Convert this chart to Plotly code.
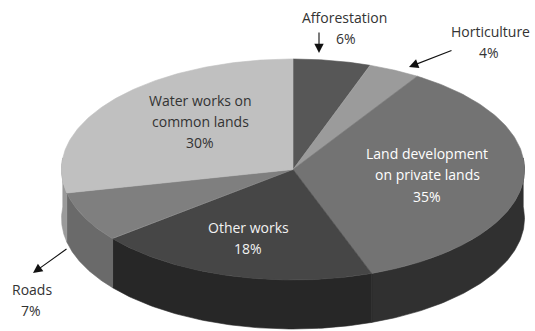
import numpy as np
import plotly.graph_objects as go

# Share of works by type of activity (per cent), clockwise from 12 o'clock
categories = ["Afforestation", "Horticulture", "Land development on private lands",
              "Other works", "Roads", "Water works on common lands"]
shares = [6, 4, 35, 18, 7, 30]
top_colors = ["#575757", "#9b9b9b", "#737373", "#464646", "#7f7f7f", "#c0c0c0"]
side_colors = ["#3a3a3a", "#6e6e6e", "#303030", "#272727", "#6a6a6a", "#9a9a9a"]

# label lines for each slice (name lines; the percentage is added below)
label_lines = {
    "Afforestation": ["Afforestation"],
    "Horticulture": ["Horticulture"],
    "Land development on private lands": ["Land development", "on private lands"],
    "Other works": ["Other works"],
    "Roads": ["Roads"],
    "Water works on common lands": ["Water works on", "common lands"],
}

# projected disc geometry (pixel space)
CX, CY, RX, RY, DEPTH = 293.0, 169.5, 231.5, 110.5, 49.0
SKEW = 6.0  # degrees of angular skew from the oblique viewpoint
W, H = 535, 331


def rim(t_deg):
    t = np.radians(t_deg - SKEW * np.sin(np.radians(t_deg)))
    return CX + RX * np.sin(t), CY - RY * np.cos(t)


fig = go.Figure()

total = float(sum(shares))
bounds = np.concatenate([[0], np.cumsum(shares)]) / total * 360.0

# side walls of the front half of the disc
for i, cat in enumerate(categories):
    a, b = max(bounds[i], 90.0), min(bounds[i + 1], 270.0)
    if b <= a:
        continue
    ts = np.linspace(a, b, 80)
    xs, ys = rim(ts)
    px = np.concatenate([xs, xs[::-1], xs[:1]])
    py = np.concatenate([ys, ys[::-1] + DEPTH, ys[:1]])
    fig.add_trace(go.Scatter(x=px, y=py, mode="lines", fill="toself",
                             fillcolor=side_colors[i],
                             line=dict(color=side_colors[i], width=0.6),
                             hoverinfo="skip", showlegend=False))

# top faces of the slices
for i, cat in enumerate(categories):
    ts = np.linspace(bounds[i], bounds[i + 1], 120)
    xs, ys = rim(ts)
    px = np.concatenate([[CX], xs, [CX]])
    py = np.concatenate([[CY], ys, [CY]])
    fig.add_trace(go.Scatter(x=px, y=py, mode="lines", fill="toself",
                             fillcolor=top_colors[i],
                             line=dict(color=top_colors[i], width=0.6),
                             name=cat, hoverinfo="name", showlegend=False))

FONT = "Open Sans"
annotations = []


def text_at(x, y, text, color):
    annotations.append(dict(x=x, y=y, text=text, showarrow=False,
                            xref="x", yref="y", xanchor="center", yanchor="middle",
                            font=dict(family=FONT, size=14, color=color)))


label_layout = {
    # category: (centre x, first line y, line step, colour, percent x, percent y)
    "Afforestation": (344, 17, 21, "#333333", 346, 38),
    "Horticulture": (490, 31, 21, "#333333", 489, 52),
    "Land development on private lands": (427, 153, 21.5, "#ffffff", 427, 196),
    "Other works": (248, 227, 21, "#f2f2f2", 248, 248),
    "Roads": (32, 289, 21, "#333333", 31, 310),
    "Water works on common lands": (200, 100, 21, "#333333", 200, 142),
}

for cat, v in zip(categories, shares):
    xc, y0, step, color, pxp, pyp = label_layout[cat]
    for k, line in enumerate(label_lines[cat]):
        text_at(xc, y0 + k * step, line, color)
    text_at(pxp, pyp, f"{v}%", color)

# leader arrows for the outer-labelled slices
arrows = [((319, 31), (319, 53)), ((453, 50), (409, 67)), ((68, 248), (33, 273))]
for (tx, ty), (hx, hy) in arrows:
    annotations.append(dict(x=hx, y=hy, ax=tx, ay=ty, xref="x", yref="y",
                            axref="x", ayref="y", text="", showarrow=True,
                            arrowhead=2, arrowsize=1.7, arrowwidth=1.1,
                            arrowcolor="#111111", standoff=0))

# heading (runs off the top edge of the page)
annotations.append(dict(x=0, y=1, xshift=-14, yshift=-2.5,
                        text="<b>Figure 2: Work Type of Activity</b>",
                        showarrow=False, xref="paper", yref="paper", xanchor="left",
                        yanchor="bottom",
                        font=dict(family="Liberation Sans", size=16, color="#111111")))

fig.update_layout(
    width=W, height=H, margin=dict(l=0, r=0, t=0, b=0),
    paper_bgcolor="white", plot_bgcolor="white",
    xaxis=dict(range=[0, W], visible=False, fixedrange=True),
    yaxis=dict(range=[H, 0], visible=False, fixedrange=True),
    annotations=annotations,
)

fig.write_html("out.html")
